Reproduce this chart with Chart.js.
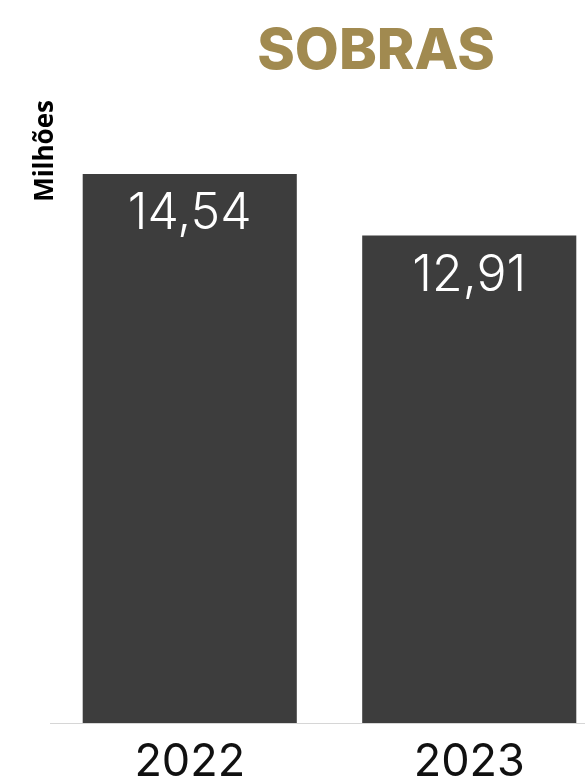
<!DOCTYPE html>
<html>
<head>
<meta charset="utf-8">
<script src="https://cdn.jsdelivr.net/npm/chart.js@4"></script>
<style>
html,body{margin:0;padding:0;background:#fff;overflow:hidden;width:585px;height:781px;}
#wrap{position:relative;width:615px;height:781px;}
</style>
</head>
<body>
<div id="wrap"><canvas id="c"></canvas></div>
<script>
const categories = ["2022", "2023"];
const values = [14.54, 12.91];
const valueLabels = ["14,54", "12,91"];
const titleText = "SOBRAS";
const unitText = "Milhões";

const overlay = {
  id: 'overlay',
  afterDatasetsDraw(chart) {
    const ctx = chart.ctx;
    const meta = chart.getDatasetMeta(0);
    ctx.save();
    ctx.fillStyle = '#ffffff';
    ctx.font = '300 50px Inter';
    ctx.textAlign = 'center';
    ctx.textBaseline = 'middle';
    meta.data.forEach((bar, i) => {
      ctx.fillText(valueLabels[i], bar.x, bar.y + 40);
    });
    ctx.restore();
  },
  afterDraw(chart) {
    const ctx = chart.ctx;
    const area = chart.chartArea;
    ctx.save();
    ctx.fillStyle = '#a18a50';
    ctx.font = '800 57px Inter';
    ctx.textAlign = 'center';
    ctx.textBaseline = 'middle';
    ctx.fillText(titleText, 376, 52);
    ctx.translate(46, area.top);
    ctx.rotate(-Math.PI / 2);
    ctx.fillStyle = '#000';
    ctx.font = 'bold 26px "Open Sans"';
    ctx.textAlign = 'right';
    ctx.fillText(unitText, 0, 0);
    ctx.restore();
  }
};

new Chart(document.getElementById('c'), {
  type: 'bar',
  data: {
    labels: categories,
    datasets: [{
      data: values,
      backgroundColor: '#3d3d3d',
      borderWidth: 0,
      categoryPercentage: 1,
      barPercentage: 0.766
    }]
  },
  options: {
    responsive: true,
    maintainAspectRatio: false,
    animation: false,
    layout: { padding: { left: 50, right: 6, top: 100, bottom: -21 } },
    plugins: { legend: { display: false }, tooltip: { enabled: false }, title: { display: false } },
    scales: {
      y: { display: false, min: 0, max: 16.5 },
      x: {
        grid: { display: false, drawTicks: false, tickLength: 0 },
        border: { display: true, color: '#d6d6d6', width: 1 },
        ticks: { color: '#111', font: { family: 'Inter', size: 45, weight: '400', lineHeight: 1 }, padding: 17 }
      }
    }
  },
  plugins: [overlay]
});
</script>
</body>
</html>
